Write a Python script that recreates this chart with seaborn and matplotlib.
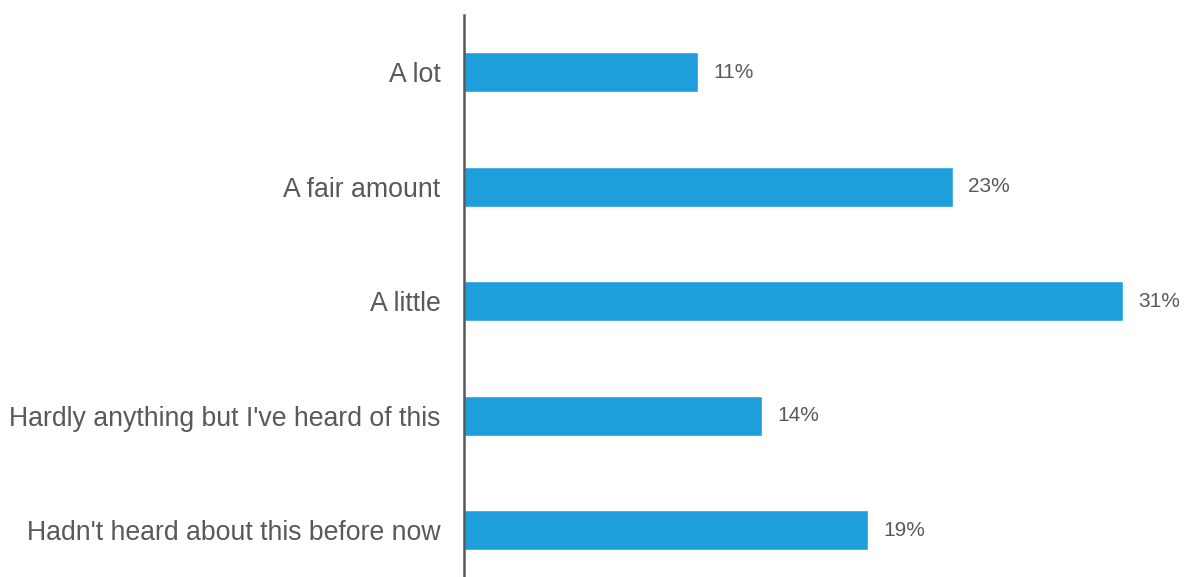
import matplotlib
matplotlib.use("Agg")
import matplotlib.pyplot as plt
import seaborn as sns
import pandas as pd

categories = [
    "A lot",
    "A fair amount",
    "A little",
    "Hardly anything but I've heard of this",
    "Hadn't heard about this before now",
]
values = [11, 23, 31, 14, 19]

df = pd.DataFrame({"category": categories, "value": values})

sns.set_theme(style="white")
plt.rcParams["font.family"] = ["Liberation Sans", "DejaVu Sans"]

text_color = "#595959"
bar_color = "#1E9FDB"

fig = plt.figure(figsize=(11.85, 5.77), dpi=100)
ax = fig.add_axes([464 / 1185, 0.0, (1185 - 464) / 1185, (577 - 15) / 577])

sns.barplot(data=df, y="category", x="value", orient="h", color=bar_color,
            saturation=1, width=0.35, ax=ax)

ax.set_xlim(0, 33.9)
ax.set_ylim(4.41, -0.5)

for i, v in enumerate(values):
    ax.text(v + 0.72, i, f"{v}%", va="center", ha="left",
            fontsize=15, color=text_color)

for side in ["top", "right", "bottom"]:
    ax.spines[side].set_visible(False)
ax.spines["left"].set_color("#595959")
ax.spines["left"].set_linewidth(1.8)

ax.set_xticks([])
ax.set_xlabel("")
ax.set_ylabel("")
ax.tick_params(axis="y", length=0, pad=17, labelsize=19.2, labelcolor=text_color)

fig.savefig("out.png", dpi=100)
